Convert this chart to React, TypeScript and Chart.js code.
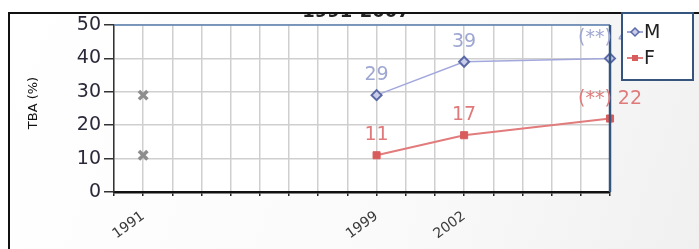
import React, { useEffect, useRef } from "react";
import { Chart, registerables } from "chart.js";

Chart.register(...registerables);

const yearsMain = [1999, 2002, 2007];
const valuesM = [29, 39, 40];
const valuesF = [11, 17, 22];
const labelsM = ["29", "39", "(**) 40"];
const labelsF = ["11", "17", "(**) 22"];
const year1991 = [1991];
const value1991M = [29];
const value1991F = [11];
const tickYears = [1991, 1999, 2002];
const legendNames = ["M", "F"];
const titleText = "1991-2007";
const yTitle = "TBA (%)";

const NUM_FONT = "'DejaVu Sans', 'Liberation Sans', Arial, sans-serif";
const COLOR_M_LINE = "#a3a8dc";
const COLOR_M_POINT = "#5b6aa6";
const COLOR_M_LABEL = "#9ea6d2";
const COLOR_F_LINE = "#e27b7b";
const COLOR_F_POINT = "#d95c5c";
const COLOR_F_LABEL = "#e07a7a";

const decorPlugin = {
  id: "decor",
  beforeDraw(chart: any) {
    const { ctx, chartArea } = chart;
    ctx.save();
    const g = ctx.createLinearGradient(0, 0, chart.width, chart.height);
    g.addColorStop(0, "#ffffff");
    g.addColorStop(0.6, "#fafafa");
    g.addColorStop(1, "#f0f0f0");
    ctx.fillStyle = g;
    ctx.fillRect(0, 0, chart.width, chart.height);
    ctx.fillStyle = "#ffffff";
    ctx.fillRect(chartArea.left, chartArea.top, chartArea.right - chartArea.left, chartArea.bottom - chartArea.top);
    ctx.restore();
  },
  afterDatasetsDraw(chart: any) {
    const { ctx, chartArea } = chart;
    ctx.save();
    // plot frame top / right
    ctx.strokeStyle = "#5a7fb0";
    ctx.lineWidth = 1.5;
    ctx.beginPath();
    ctx.moveTo(chartArea.left, chartArea.top);
    ctx.lineTo(chartArea.right, chartArea.top);
    ctx.stroke();
    ctx.strokeStyle = "#35557f";
    ctx.lineWidth = 2.5;
    ctx.beginPath();
    ctx.moveTo(chartArea.right, chartArea.top);
    ctx.lineTo(chartArea.right, chartArea.bottom);
    ctx.stroke();

    // data labels
    ctx.font = `19px ${NUM_FONT}`;
    ctx.textAlign = "center";
    ctx.textBaseline = "alphabetic";
    const drawLabels = (idx: number, labels: string[], color: string) => {
      const meta = chart.getDatasetMeta(idx);
      ctx.fillStyle = color;
      meta.data.forEach((el: any, i: number) => {
        ctx.fillText(labels[i], el.x, el.y - 15);
      });
    };
    drawLabels(0, labelsM, COLOR_M_LABEL);
    drawLabels(1, labelsF, COLOR_F_LABEL);

    // y title
    ctx.save();
    ctx.translate(37, 103);
    ctx.rotate(-Math.PI / 2);
    ctx.font = `13px ${NUM_FONT}`;
    ctx.fillStyle = "#111111";
    ctx.textAlign = "center";
    ctx.textBaseline = "alphabetic";
    ctx.fillText(yTitle, 0, 0);
    ctx.restore();

    // title (cut off at top)
    ctx.save();
    ctx.beginPath();
    ctx.rect(0, 13, chart.width, 20);
    ctx.clip();
    ctx.font = `bold 18px ${NUM_FONT}`;
    ctx.fillStyle = "#222222";
    ctx.textAlign = "center";
    ctx.textBaseline = "alphabetic";
    ctx.fillText(titleText, 356, 17);
    ctx.restore();
    ctx.fillStyle = "#ffffff";
    ctx.fillRect(0, 0, chart.width, 12);
    ctx.fillRect(0, 0, 8, chart.height);

    // outer frame
    ctx.strokeStyle = "#111111";
    ctx.lineWidth = 2;
    ctx.beginPath();
    ctx.moveTo(9, chart.height);
    ctx.lineTo(9, 13);
    ctx.lineTo(chart.width, 13);
    ctx.stroke();

    // legend
    const lx = 622, ly = 13, lw = 71, lh = 67;
    ctx.fillStyle = "#ffffff";
    ctx.fillRect(lx, ly, lw, lh);
    ctx.strokeStyle = "#35557f";
    ctx.lineWidth = 2;
    ctx.strokeRect(lx, ly, lw, lh);
    const items = [
      { name: legendNames[0], line: COLOR_M_LINE, point: COLOR_M_POINT, style: "diamond", y: 32 },
      { name: legendNames[1], line: COLOR_F_LINE, point: COLOR_F_POINT, style: "square", y: 58 },
    ];
    items.forEach((it) => {
      ctx.strokeStyle = it.line;
      ctx.lineWidth = 2;
      ctx.beginPath();
      ctx.moveTo(627, it.y);
      ctx.lineTo(643, it.y);
      ctx.stroke();
      ctx.fillStyle = it.point;
      if (it.style === "diamond") {
        ctx.strokeStyle = it.point;
        ctx.lineWidth = 1.5;
        ctx.beginPath();
        ctx.moveTo(635, it.y - 4);
        ctx.lineTo(639, it.y);
        ctx.lineTo(635, it.y + 4);
        ctx.lineTo(631, it.y);
        ctx.closePath();
        ctx.fillStyle = "#c9cdea";
        ctx.fill();
        ctx.stroke();
      } else {
        ctx.fillRect(632, it.y - 3, 6, 6);
      }
      ctx.fillStyle = "#222222";
      ctx.font = `19px ${NUM_FONT}`;
      ctx.textAlign = "left";
      ctx.textBaseline = "middle";
      ctx.fillText(it.name, 644, it.y + 1);
    });
    ctx.restore();
  },
};

export default function App() {
  const ref = useRef<HTMLCanvasElement | null>(null);
  useEffect(() => {
    if (!ref.current) return;
    const toXY = (xs: number[], ys: number[]) => xs.map((x, i) => ({ x, y: ys[i] }));
    const chart = new Chart(ref.current, {
      type: "line",
      data: {
        datasets: [
          {
            label: legendNames[0],
            data: toXY(yearsMain, valuesM),
            borderColor: COLOR_M_LINE,
            borderWidth: 1.5,
            pointStyle: "rectRot",
            pointRadius: 5,
            pointBorderWidth: 2,
            pointBorderColor: COLOR_M_POINT,
            pointBackgroundColor: "#c9cdea",
            clip: false as any,
          },
          {
            label: legendNames[1],
            data: toXY(yearsMain, valuesF),
            borderColor: COLOR_F_LINE,
            borderWidth: 2,
            pointStyle: "rect",
            pointRadius: 5,
            pointBorderWidth: 1,
            pointBorderColor: COLOR_F_POINT,
            pointBackgroundColor: COLOR_F_POINT,
            clip: false as any,
          },
          {
            label: "M 1991",
            data: toXY(year1991, value1991M),
            showLine: false,
            pointStyle: "crossRot",
            pointRadius: 6,
            pointBorderWidth: 3.5,
            pointBorderColor: "#8e8e8e",
          },
          {
            label: "F 1991",
            data: toXY(year1991, value1991F),
            showLine: false,
            pointStyle: "crossRot",
            pointRadius: 6,
            pointBorderWidth: 3.5,
            pointBorderColor: "#8e8e8e",
          },
        ],
      },
      options: {
        animation: false,
        responsive: false,
        maintainAspectRatio: false,
        layout: { padding: { left: 10, top: 25, right: 89, bottom: 0 } },
        plugins: { legend: { display: false }, tooltip: { enabled: false }, title: { display: false } },
        scales: {
          x: {
            type: "linear",
            min: 1990,
            max: 2007,
            afterFit: (s: any) => { s.height = 57; },
            grid: { color: "#cfcfcf", lineWidth: 1.5, tickColor: "#222222", tickLength: 4, drawOnChartArea: true },
            border: { color: "#111111", width: 2.5 },
            ticks: {
              stepSize: 1,
              autoSkip: false,
              minRotation: 36,
              maxRotation: 36,
              padding: 12,
              color: "#3a3a3a",
              font: { size: 14, family: NUM_FONT },
              callback: (v: any) => (tickYears.includes(Number(v)) ? String(v) : ""),
            },
          },
          y: {
            min: 0,
            max: 50,
            afterFit: (s: any) => { s.width = 104; },
            grid: { color: "#cfcfcf", lineWidth: 1.5, tickColor: "#333333", tickLength: 10 },
            border: { color: "#333333", width: 1.5 },
            ticks: {
              stepSize: 10,
              padding: 3,
              color: "#2a2a3a",
              font: { size: 19, family: NUM_FONT },
            },
          },
        },
      },
      plugins: [decorPlugin],
    });
    return () => chart.destroy();
  }, []);
  return (
    <div style={{ position: "fixed", left: 0, top: 0, width: 699, height: 249 }}>
      <canvas ref={ref} width={699} height={249} style={{ display: "block", width: 699, height: 249 }} />
    </div>
  );
}
